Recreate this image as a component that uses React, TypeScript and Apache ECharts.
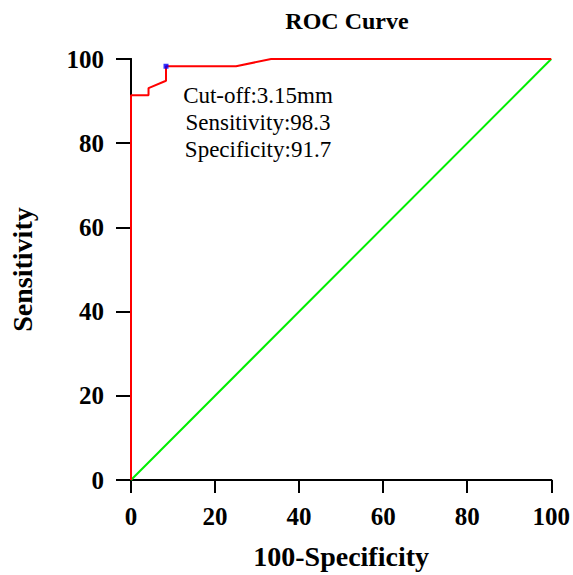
import React, { useEffect, useRef } from "react";
import * as echarts from "echarts";

const rocX = [0, 0, 4.17, 4.17, 8.33, 8.33, 25, 33.33, 100];
const rocY = [0, 91.38, 91.38, 93.1, 94.83, 98.28, 98.28, 100, 100];
const refX = [0, 100];
const refY = [0, 100];
const cutX = [8.33];
const cutY = [98.28];
const ticks = [0, 20, 40, 60, 80, 100];
const annotation = ["Cut-off:3.15mm", "Sensitivity:98.3", "Specificity:91.7"];

const FONT = '"Times New Roman", "Liberation Serif", serif';

export default function App() {
  const ref = useRef<HTMLDivElement>(null);
  useEffect(() => {
    if (!ref.current) return;
    const chart = echarts.init(ref.current, null, { renderer: "svg" });
    const axisLine = { show: true, lineStyle: { color: "#000", width: 2 } };
    chart.setOption({
      animation: false,
      backgroundColor: "#fff",
      title: {
        text: "ROC Curve",
        left: 342,
        textAlign: "center",
        top: 4,
        textStyle: { fontFamily: FONT, fontWeight: "bold", fontSize: 24, color: "#000" },
      },
      grid: { left: 131, right: 20, top: 59, bottom: 95 },
      xAxis: [
        {
          type: "value",
          min: 0,
          max: 100,
          interval: 20,
          position: "bottom",
          name: "100-Specificity",
          nameLocation: "middle",
          nameGap: 62,
          nameTextStyle: { fontFamily: FONT, fontWeight: "bold", fontSize: 28, color: "#000" },
          axisLine,
          axisTick: { show: true, length: 13, lineStyle: { color: "#000", width: 2 } },
          axisLabel: {
            margin: 24,
            fontFamily: FONT,
            fontWeight: "bold",
            fontSize: 25,
            color: "#000",
            formatter: (v: number) => (ticks.includes(v) ? String(v) : ""),
          },
          splitLine: { show: false },
        },
        {
          type: "value",
          min: 0,
          max: 100,
          position: "top",
          axisLine,
          axisTick: { show: false },
          axisLabel: { show: false },
          splitLine: { show: false },
        },
      ],
      yAxis: [
        {
          type: "value",
          min: 0,
          max: 100,
          interval: 20,
          position: "left",
          name: "Sensitivity",
          nameLocation: "middle",
          nameGap: 95,
          nameTextStyle: { fontFamily: FONT, fontWeight: "bold", fontSize: 28, color: "#000" },
          axisLine,
          axisTick: { show: true, length: 15, lineStyle: { color: "#000", width: 2 } },
          axisLabel: {
            margin: 27,
            fontFamily: FONT,
            fontWeight: "bold",
            fontSize: 25,
            color: "#000",
          },
          splitLine: { show: false },
        },
        {
          type: "value",
          min: 0,
          max: 100,
          position: "right",
          axisLine,
          axisTick: { show: false },
          axisLabel: { show: false },
          splitLine: { show: false },
        },
      ],
      series: [
        {
          type: "line",
          data: refX.map((x, i) => [x, refY[i]]),
          showSymbol: false,
          lineStyle: { color: "#00ee00", width: 2 },
          z: 3,
        },
        {
          type: "line",
          data: rocX.map((x, i) => [x, rocY[i]]),
          showSymbol: false,
          lineStyle: { color: "#ff0000", width: 2 },
          z: 4,
        },
        {
          type: "scatter",
          data: cutX.map((x, i) => [x, cutY[i]]),
          symbol: "rect",
          symbolSize: 5,
          itemStyle: { color: "#0000ff" },
          z: 5,
        },
      ],
      graphic: annotation.map((t, i) => ({
        type: "text",
        x: 258,
        y: 95 + i * 27,
        style: {
          text: t,
          fontFamily: FONT,
          fontSize: 23,
          fill: "#000",
          textAlign: "center",
          textVerticalAlign: "middle",
        },
      })),
    });
    return () => chart.dispose();
  }, []);
  return <div ref={ref} style={{ width: 573, height: 575, position: "absolute", left: 0, top: 0 }} />;
}
